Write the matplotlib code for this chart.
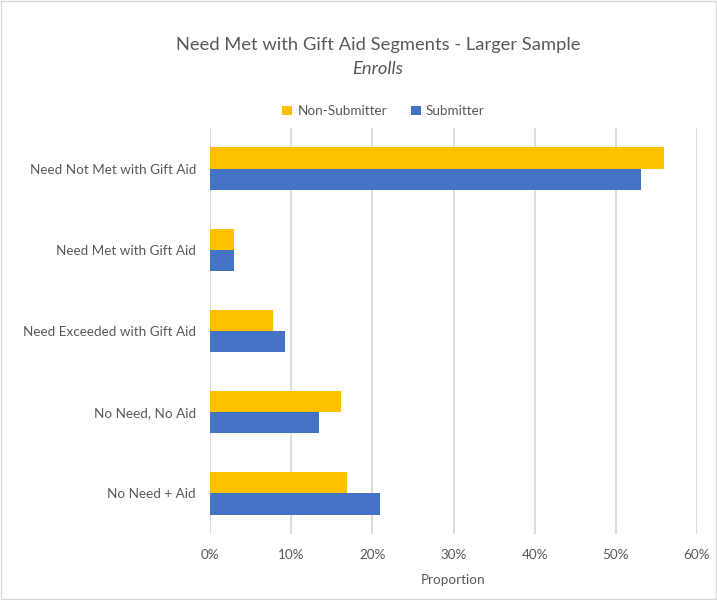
import numpy as np
import matplotlib
matplotlib.use("Agg")
import matplotlib.pyplot as plt
from matplotlib.ticker import PercentFormatter

plt.rcParams['font.family'] = ['Lato', 'DejaVu Sans']

categories = ["Need Not Met with Gift Aid", "Need Met with Gift Aid",
              "Need Exceeded with Gift Aid", "No Need, No Aid", "No Need + Aid"]
non_submitter = [0.559, 0.030, 0.078, 0.162, 0.169]
submitter = [0.531, 0.029, 0.093, 0.134, 0.210]

TXT = '#595959'
fig = plt.figure(figsize=(7.17, 6.0), dpi=100)
ax = fig.add_axes([0.2929, 0.11, 0.6792, 0.6767])

y = np.arange(len(categories))
h = 0.26
ax.barh(y - h / 2, non_submitter, height=h, color='#FFC000', label='Non-Submitter', zorder=3)
ax.barh(y + h / 2, submitter, height=h, color='#4472C4', label='Submitter', zorder=3)

ax.set_ylim(len(categories) - 0.5, -0.5)
ax.set_xlim(0, 0.6)
ax.set_yticks(y)
ax.set_yticklabels(categories, color=TXT, fontsize=9.7)
ax.set_xticks(np.arange(0, 0.61, 0.1))
ax.xaxis.set_major_formatter(PercentFormatter(1.0, decimals=0))
ax.tick_params(axis='x', colors=TXT, labelsize=9.7, length=0, pad=11)
ax.tick_params(axis='y', length=0, pad=10)
ax.grid(axis='x', color='#D9D9D9', linewidth=1.3, zorder=0)
for s in ax.spines.values():
    s.set_visible(False)
ax.set_xlabel('Proportion', color=TXT, fontsize=9.7, labelpad=9)

cx = 0.527
fig.text(cx, 0.925, 'Need Met with Gift Aid Segments - Larger Sample', ha='center',
         va='center', fontsize=13.2, color=TXT)
fig.text(cx, 0.885, 'Enrolls', ha='center', va='center', fontsize=13.2,
         color=TXT, style='italic')
fig.legend(loc='center', bbox_to_anchor=(cx + 0.008, 0.815), ncol=2, frameon=False,
           fontsize=9.7, labelcolor=TXT, handlelength=0.7, handleheight=0.7,
           columnspacing=1.8, handletextpad=0.4)

fig.patches.append(plt.Rectangle((0.001, 0.001), 0.998, 0.998, transform=fig.transFigure,
                                 fill=False, edgecolor='#D9D9D9', linewidth=1))

fig.savefig('out.png', dpi=100)
